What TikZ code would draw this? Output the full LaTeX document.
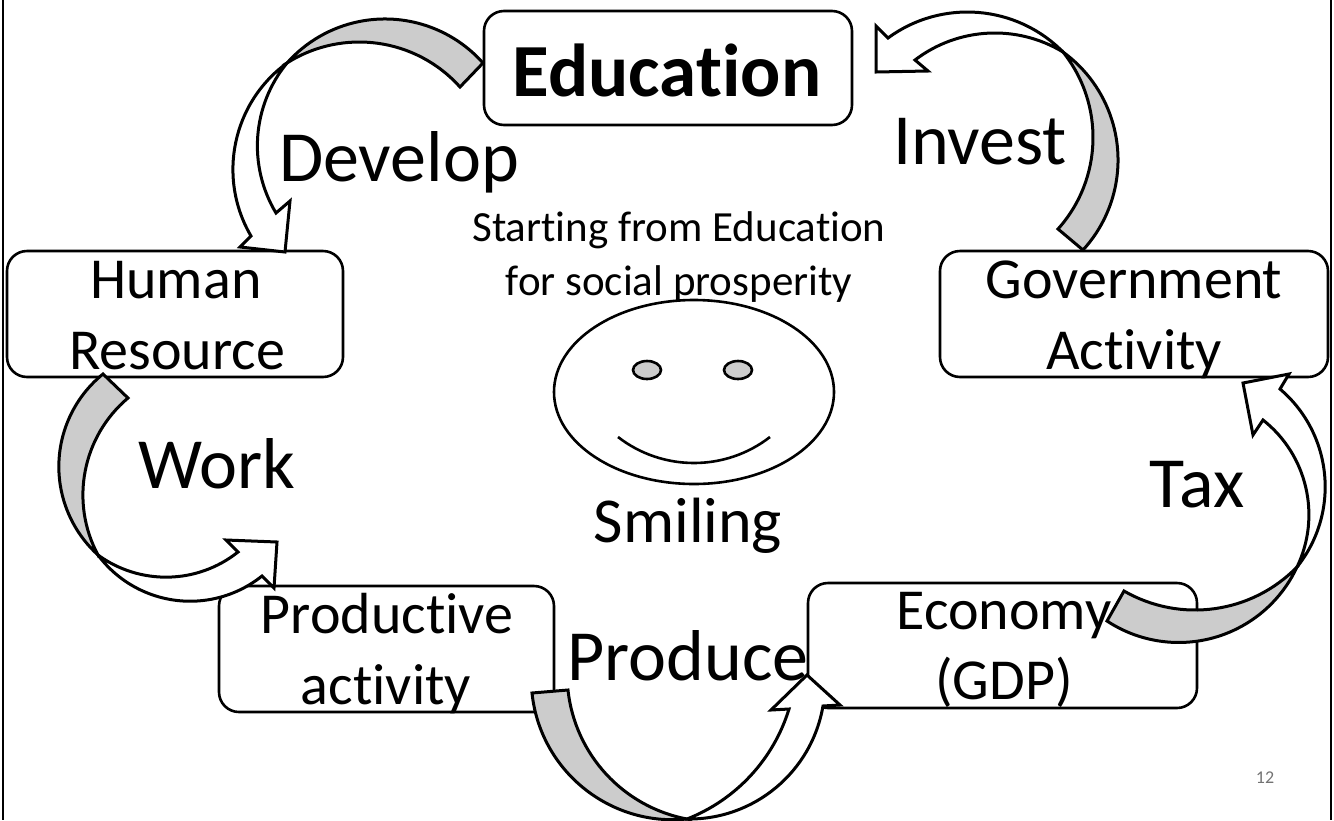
\documentclass[tikz,border=0pt]{standalone}
\usepackage{fontspec}
\setmainfont[RawFeature={-liga}]{Carlito}
\usetikzlibrary{calc}
\newcommand\fs[1]{\fontsize{#1}{#1}\selectfont}
% \mkarc{\name}{Ax}{Ay}{Mx}{My}{Bx}{By}: circular arc from A through M to B
\newcommand\mkarc[7]{%
  \pgfmathsetmacro\mkP{(#4-#2)/100}\pgfmathsetmacro\mkQ{(#5-#3)/100}%
  \pgfmathsetmacro\mkR{(#6-#2)/100}\pgfmathsetmacro\mkS{(#7-#3)/100}%
  \pgfmathsetmacro\mkD{2*(\mkP*\mkS-\mkQ*\mkR)}%
  \pgfmathsetmacro\mkE{\mkP*\mkP+\mkQ*\mkQ}\pgfmathsetmacro\mkF{\mkR*\mkR+\mkS*\mkS}%
  \pgfmathsetmacro\mkU{(\mkS*\mkE-\mkQ*\mkF)/\mkD}\pgfmathsetmacro\mkV{(\mkP*\mkF-\mkR*\mkE)/\mkD}%
  \pgfmathsetmacro\mkRad{100*sqrt(\mkU*\mkU+\mkV*\mkV)}%
  \pgfmathsetmacro\mkA{atan2(-\mkV,-\mkU)}%
  \pgfmathsetmacro\mkM{atan2(\mkQ-\mkV,\mkP-\mkU)}%
  \pgfmathsetmacro\mkB{atan2(\mkS-\mkV,\mkR-\mkU)}%
  \pgfmathsetmacro\mkDm{mod(\mkM-\mkA+720,360)}%
  \pgfmathsetmacro\mkDb{mod(\mkB-\mkA+720,360)}%
  \pgfmathsetmacro\mkDelta{\mkDm<\mkDb ? \mkDb : \mkDb-360}%
  \edef#1{arc[start angle=\mkA,delta angle=\mkDelta,radius=\mkRad]}%
}
\tikzset{
  x=1pt,y=-1pt,
  box/.style={draw=black,line width=2.6pt,rounded corners=20pt,fill=white},
  grey/.style={draw=black,line width=3pt,fill=black!20,line join=miter},
  whitearrow/.style={draw=black,line width=3pt,fill=white,line join=miter},
  lab/.style={inner sep=0pt,align=center,text=black,anchor=base},
}
\begin{document}
\begin{tikzpicture}
\useasboundingbox (0,0) rectangle (1334,820);
\draw[line width=2pt] (3,0) -- (3,820);
\draw[line width=2pt] (1331,0) -- (1331,820);
% boxes
\draw[box] (484,11) rectangle (852,125);
\draw[box] (7,251) rectangle (343,377);
\draw[box] (940,251) rectangle (1328,377);
\draw[box] (219,586) rectangle (554,712);
\draw[box] (808,583) rectangle (1197,708);
% smiley
\mkarc{\arcSm}{618}{437}{695}{463}{770}{437}
\draw[line width=2.6pt] (694,392) ellipse [x radius=140,y radius=92];
\draw[line width=2.6pt,fill=black!20] (647,370) ellipse [x radius=14,y radius=9];
\draw[line width=2.6pt,fill=black!20] (738,370) ellipse [x radius=14,y radius=9];
\draw[line width=2.6pt] (618,437) \arcSm;
% develop
\mkarc{\arcDa}{483}{63}{382}{19}{287}{63}
\mkarc{\arcDb}{287}{63}{358}{42}{460}{87}
\mkarc{\arcDc}{287}{63}{233}{165}{251}{236}
\mkarc{\arcDd}{276}{213}{258}{133}{287}{63}
\draw[grey] (483,63) \arcDa -- (287,63) \arcDb -- cycle;
\draw[whitearrow] (287,63) \arcDc -- (240,247) -- (285,252) -- (290,201) -- (276,213) \arcDd -- cycle;
% invest
\mkarc{\arcIa}{1083}{250}{1118}{163}{1063}{52}
\mkarc{\arcIb}{1063}{52}{1093}{137}{1058}{229}
\mkarc{\arcIc}{1063}{52}{967}{12}{888}{38}
\mkarc{\arcId}{915}{60}{993}{33}{1063}{52}
\draw[grey] (1083,250) \arcIa -- (1063,52) \arcIb -- cycle;
\draw[whitearrow] (1063,52) \arcIc -- (876,26) -- (876,72) -- (928,71) -- (915,60) \arcId -- cycle;
% work
\mkarc{\arcWa}{103}{374}{59}{473}{98}{555}
\mkarc{\arcWb}{98}{555}{83}{500}{128}{398}
\mkarc{\arcWc}{98}{555}{183}{601}{262}{576}
\mkarc{\arcWd}{238}{552}{160}{577}{98}{555}
\draw[grey] (103,374) \arcWa -- (98,555) \arcWb -- cycle;
\draw[whitearrow] (98,555) \arcWc -- (274,588) -- (277,542) -- (226,540) -- (238,552) \arcWd -- cycle;
% produce
\mkarc{\arcPa}{532}{693}{590}{793}{687}{819}
\mkarc{\arcPb}{687}{819}{600}{767}{568}{690}
\mkarc{\arcPc}{687}{819}{773}{790}{823}{706}
\mkarc{\arcPd}{789}{709}{753}{773}{687}{819}
\draw[grey] (532,693) \arcPa -- (687,819) \arcPb -- cycle;
\draw[whitearrow] (687,819) \arcPc -- (840,705) -- (807,675) -- (771,710) -- (789,709) \arcPd -- cycle;
% tax
\mkarc{\arcTa}{1107}{621}{1190}{642}{1297}{567}
\mkarc{\arcTb}{1297}{567}{1197}{610}{1124}{591}
\mkarc{\arcTc}{1297}{567}{1325}{480}{1280}{389}
\mkarc{\arcTd}{1263}{420}{1308}{500}{1297}{567}
\draw[grey] (1107,621) \arcTa -- (1297,567) \arcTb -- cycle;
\draw[whitearrow] (1297,567) \arcTc -- (1289,374) -- (1243,383) -- (1253,435) -- (1263,420) \arcTd -- cycle;
% texts
\node[lab] (edu) at (667,96) {\fs{75}\bfseries Education};
\node[lab] (dev) at (399,181) {\fs{72}Develop};
\node[lab] (inv) at (980,164) {\fs{72}Invest};
\node[lab] (start) at (679,241) {\fs{43}Starting from Education};
\node[lab] (soc) at (679,295) {\fs{43}for social prosperity};
\node[lab] (hum) at (176,298) {\fs{58}Human};
\node[lab] (res) at (177,369) {\fs{58}Resource};
\node[lab] (gov) at (1134,298) {\fs{58}Government};
\node[lab] (act) at (1134,369) {\fs{58}Activity};
\node[lab] (wor) at (217,488) {\fs{72}Work};
\node[lab] (tax) at (1197,507) {\fs{72}Tax};
\node[lab] (smi) at (688,542) {\fs{64}Smiling};
\node[lab] (pro) at (387,633) {\fs{58}Productive};
\node[lab] (acy) at (386,704) {\fs{58}activity};
\node[lab] (prd) at (688,680) {\fs{72}Produce};
\node[lab] (eco) at (1004,629) {\fs{58}Economy};
\node[lab] (gdp) at (1004,699) {\fs{58}(GDP)};
\node[lab,text=black!55] (num) at (1265,783) {\fs{18}12};
\end{tikzpicture}
\end{document}
